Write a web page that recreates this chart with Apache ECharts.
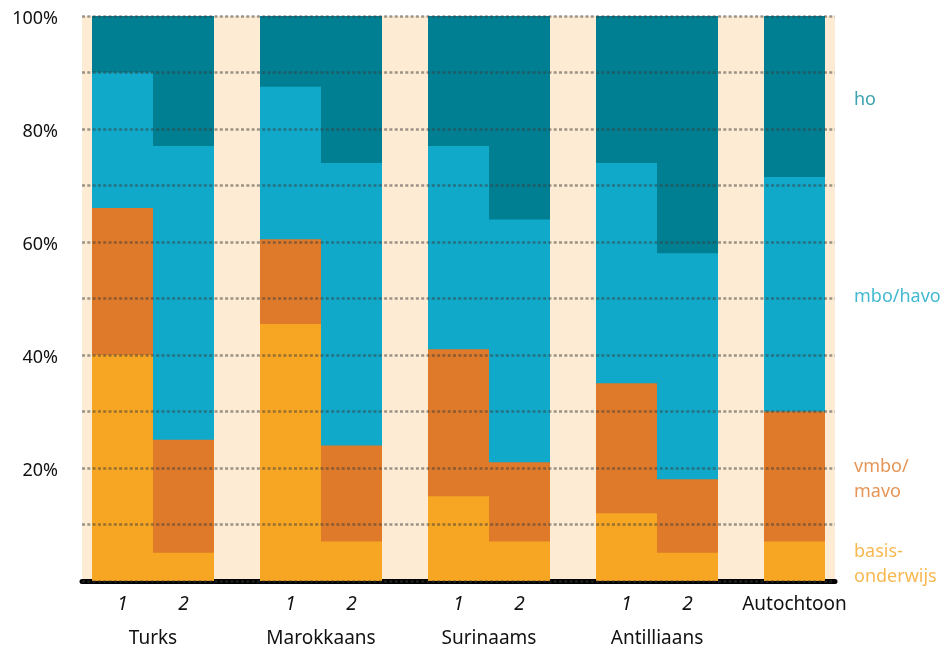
<!DOCTYPE html>
<html>
<head>
<meta charset="utf-8">
<script src="https://cdn.jsdelivr.net/npm/echarts@6/dist/echarts.min.js"></script>
<style>
  html, body { margin: 0; padding: 0; background: #fff; }
  #chart { width: 946px; height: 648px; }
</style>
</head>
<body>
<div id="chart"></div>
<script>
// Groups, and which group / generation each bar belongs to
const groups = ['Turks', 'Marokkaans', 'Surinaams', 'Antilliaans', 'Autochtoon'];
const barGroup = [0, 0, 1, 1, 2, 2, 3, 3, 4];
const barGen = [0, 1, 0, 1, 0, 1, 0, 1, 0];
const barLabels = ['1', '2', '1', '2', '1', '2', '1', '2', 'Autochtoon'];

// Education levels, bottom to top (percent of each bar)
const levels = ['basis-\nonderwijs', 'vmbo/\nmavo', 'mbo/havo', 'ho'];
const basis = [40, 5, 45.5, 7, 15, 7, 12, 5, 7];
const vmbo = [26, 20, 15, 17, 26, 14, 23, 13, 23];
const mbo = [24, 52, 27, 50, 36, 43, 39, 40, 41.5];
const ho = [10, 23, 12.5, 26, 23, 36, 26, 42, 28.5];

const yTicks = [20, 40, 60, 80, 100];

// layout (x unit = one bar width = 61px, so bar edges land on whole pixels)
const barPx = 61;
const gapUnits = 46 / barPx;
const padUnits = 10 / barPx;
const levelColors = ['#f6a623', '#de7a2a', '#10a9c9', '#017f92'];
const labelColors = ['#f6a623', '#e07a2c', '#14a6c6', '#0d8a9e'];
const font = '"Noto Sans", sans-serif';

const layers = [basis, vmbo, mbo, ho];
const xs = barGroup.map((g, i) => g * (2 + gapUnits) + barGen[i] + 0.5);
const xMin = -padUnits;
const xMax = (groups.length - 1) * (2 + gapUnits) + 1 + padUnits;
const groupCenters = groups.slice(0, 4).map((g, i) => i * (2 + gapUnits) + 1);

// cumulative tops per layer
const tops = [];
layers.forEach((arr, l) => {
    tops.push(arr.map((v, i) => (l ? tops[l - 1][i] : 0) + v));
});

function nearestIndex(list, v) {
    let best = 0;
    list.forEach((x, i) => { if (Math.abs(x - v) < Math.abs(list[best] - v)) best = i; });
    return best;
}

// bars are drawn back to front: full bar (ho) first, basis last
const barSeries = [3, 2, 1, 0].map(l => ({
    name: levels[l],
    type: 'bar',
    barWidth: barPx,
    barGap: '-100%',
    itemStyle: { color: levelColors[l] },
    data: xs.map((x, i) => [x, tops[l][i]])
}));

// labels to the right of the Autochtoon bar, at the middle of each segment
const last = xs.length - 1;
const labelSeries = {
    type: 'scatter',
    symbolSize: 0,
    clip: false,
    z: 20,
    silent: true,
    label: {
        show: true,
        position: 'right',
        distance: barPx / 2 + 29,
        offset: [0, 3],
        fontFamily: font,
        fontSize: 18,
        lineHeight: 25,
        formatter: p => levels[p.dataIndex]
    },
    data: layers.map((arr, l) => ({
        value: [xs[last], tops[l][last] - arr[last] / 2],
        label: { color: labelColors[l] }
    }))
};

const chart = echarts.init(document.getElementById('chart'));

chart.setOption({
    animation: false,
    grid: {
        left: 82, right: 111, top: 16, bottom: 66,
        show: true,
        backgroundColor: '#fdebd3',
        borderWidth: 0
    },
    xAxis: [{
        type: 'value',
        min: xMin,
        max: xMax,
        axisLine: { show: true, lineStyle: { color: '#000', width: 5 } },
        axisTick: { show: false },
        splitLine: { show: false },
        axisLabel: {
            customValues: xs,
            margin: 14,
            fontFamily: font,
            fontSize: 19,
            color: '#111',
            formatter: v => {
                const t = barLabels[nearestIndex(xs, v)];
                return t.length > 1 ? '{n|' + t + '}' : '{i|' + t + '}';
            },
            rich: {
                i: { fontStyle: 'italic', fontFamily: font, fontSize: 19, color: '#111' },
                n: { fontFamily: font, fontSize: 19, color: '#111' }
            }
        }
    }, {
        type: 'value',
        min: xMin,
        max: xMax,
        position: 'bottom',
        offset: 34,
        axisLine: { show: false },
        axisTick: { show: false },
        splitLine: { show: false },
        axisLabel: {
            customValues: groupCenters,
            margin: 14,
            fontFamily: font,
            fontSize: 19,
            color: '#111',
            formatter: v => groups[nearestIndex(groupCenters, v)]
        }
    }],
    yAxis: {
        type: 'value',
        min: 0,
        max: 100,
        interval: 10,
        z: 10,
        axisLine: { show: false },
        axisTick: { show: false },
        axisLabel: {
            customValues: yTicks,
            margin: 24,
            formatter: '{a|{value}%}',
            rich: {
                a: { fontFamily: font, fontSize: 18, color: '#111', padding: [6, 0, 0, 0] }
            }
        },
        splitLine: {
            show: true,
            lineStyle: { color: 'rgba(60,60,60,0.5)', width: 2.5, type: [3, 2.3] }
        }
    },
    series: barSeries.concat([labelSeries])
});
</script>
</body>
</html>
